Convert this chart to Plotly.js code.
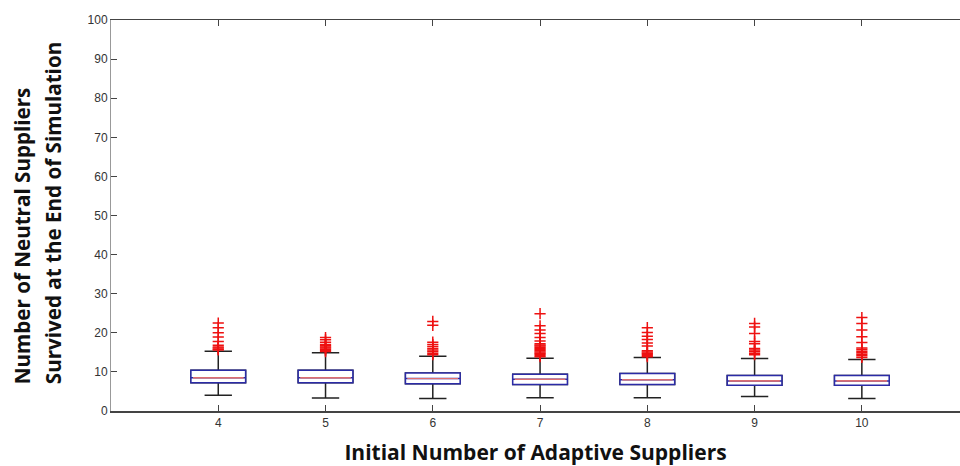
<!DOCTYPE html>
<html>
<head>
<meta charset="utf-8">
<script src="https://cdn.plot.ly/plotly-3.0.1.min.js"></script>
<style>html,body{margin:0;padding:0;background:#fff;}#chart{width:960px;height:466px;}</style>
</head>
<body>
<div id="chart"></div>
<script>
// Categories: initial number of adaptive suppliers
var categories = [4, 5, 6, 7, 8, 9, 10];
// Box statistics
var lowerWhisker = [4.0, 3.3, 3.2, 3.4, 3.4, 3.7, 3.2];
var q1Values     = [7.2, 7.2, 7.0, 6.8, 6.8, 6.6, 6.6];
var medianValues = [8.5, 8.5, 8.3, 8.1, 8.0, 7.7, 7.7];
var q3Values     = [10.4, 10.4, 9.7, 9.4, 9.6, 9.1, 9.1];
var upperWhisker = [15.3, 14.9, 14.0, 13.5, 13.7, 13.4, 13.2];
// Outliers per category
var outliers4  = [22.5, 21.3, 20.0, 18.9, 17.8, 16.8, 16.4, 16.1, 15.8, 15.6];
var outliers5  = [18.8, 18.2, 17.6, 17.0, 16.7, 16.4, 16.1, 15.8, 15.5, 15.2];
var outliers6  = [22.9, 21.9, 17.6, 17.0, 16.5, 16.0, 15.6, 15.2, 14.8, 14.4];
var outliers7  = [24.9, 21.8, 20.7, 19.8, 18.8, 17.9, 17.2, 16.9, 16.6, 16.3, 16.0, 15.7, 15.4, 15.1, 14.8, 14.5, 14.2, 13.9];
var outliers8  = [21.3, 20.1, 19.1, 18.3, 17.4, 16.6, 15.4, 15.1, 14.8, 14.5, 14.2, 13.9];
var outliers9  = [22.4, 21.5, 19.8, 17.8, 17.2, 16.0, 15.6, 15.2, 14.8, 14.4];
var outliers10 = [23.9, 22.4, 20.7, 19.0, 17.5, 16.1, 15.7, 15.3, 14.9, 14.5, 14.1, 13.7];
var outlierLists = [outliers4, outliers5, outliers6, outliers7, outliers8, outliers9, outliers10];

var yTickValues = [0, 10, 20, 30, 40, 50, 60, 70, 80, 90, 100];
var xTitle = 'Initial Number of Adaptive Suppliers';
var yTitleLines = ['Number of Neutral Suppliers', 'Survived at the End of Simulation'];

var outX = [], outY = [];
outlierLists.forEach(function (list, i) {
  list.forEach(function (v) { outX.push(categories[i]); outY.push(v); });
});

var boxWidth = 0.51;

// Whiskers (black)
var whiskerTrace = {
  type: 'box', x: categories,
  q1: q1Values, median: medianValues, q3: q3Values,
  lowerfence: lowerWhisker, upperfence: upperWhisker,
  width: boxWidth, whiskerwidth: 0.5,
  line: {color: '#222222', width: 1.5},
  fillcolor: '#ffffff', boxpoints: false,
  showlegend: false, hoverinfo: 'skip'
};
// Box body (blue)
var bodyTrace = {
  type: 'box', x: categories,
  q1: q1Values, median: medianValues, q3: q3Values,
  lowerfence: q1Values, upperfence: q3Values,
  width: boxWidth, whiskerwidth: 0,
  line: {color: '#2b2ba6', width: 1.5},
  fillcolor: '#ffffff', boxpoints: false,
  showlegend: false, hoverinfo: 'skip'
};
// Median line (red)
var medianTrace = {
  type: 'box', x: categories,
  q1: medianValues, median: medianValues, q3: medianValues,
  lowerfence: medianValues, upperfence: medianValues,
  width: boxWidth * 0.92, whiskerwidth: 0,
  line: {color: '#e07070', width: 1},
  fillcolor: 'rgba(0,0,0,0)', boxpoints: false,
  showlegend: false, hoverinfo: 'skip'
};
var outlierTrace = {
  type: 'scatter', mode: 'markers', x: outX, y: outY,
  marker: {symbol: 'cross-thin-open', size: 8, color: '#ee1111', line: {color: '#ee1111', width: 1.5}},
  showlegend: false, hoverinfo: 'skip'
};

var titleFont = {family: 'Open Sans, sans-serif', size: 20.6, color: '#111', weight: 'bold'};

var layout = {
  width: 960, height: 466,
  margin: {l: 111, r: 0, t: 20, b: 55},
  paper_bgcolor: '#ffffff', plot_bgcolor: '#ffffff',
  boxmode: 'overlay',
  showlegend: false,
  xaxis: {
    range: [3, 10.915], tickvals: categories, ticktext: categories.map(String),
    ticks: 'inside', ticklen: 6, tickcolor: '#444', tickwidth: 1,
    showline: true, linecolor: '#444', linewidth: 1.5, mirror: 'ticks',
    showgrid: false, zeroline: false,
    tickfont: {family: 'Liberation Sans, Arial, sans-serif', size: 12, color: '#333'},
    title: {text: xTitle, standoff: 17,
      font: {family: 'Open Sans, sans-serif', size: 21, color: '#111', weight: 'bold'}},
    automargin: false
  },
  yaxis: {
    range: [0, 100], tickvals: yTickValues,
    ticks: 'inside', ticklen: 6, tickcolor: '#444', tickwidth: 1,
    showline: true, linecolor: '#999', linewidth: 1,
    showgrid: false, zeroline: false,
    tickfont: {family: 'Liberation Sans, Arial, sans-serif', size: 12, color: '#333'},
    automargin: false
  },
  annotations: [
    {text: yTitleLines[0], textangle: -90, xref: 'paper', yref: 'paper',
     x: -0.1048, y: 0.447, xanchor: 'center', yanchor: 'middle', showarrow: false, font: titleFont},
    {text: yTitleLines[1], textangle: -90, xref: 'paper', yref: 'paper',
     x: -0.0683, y: 0.506, xanchor: 'center', yanchor: 'middle', showarrow: false, font: titleFont}
  ]
};

Plotly.newPlot('chart', [whiskerTrace, bodyTrace, medianTrace, outlierTrace], layout, {staticPlot: true});
</script>
</body>
</html>
